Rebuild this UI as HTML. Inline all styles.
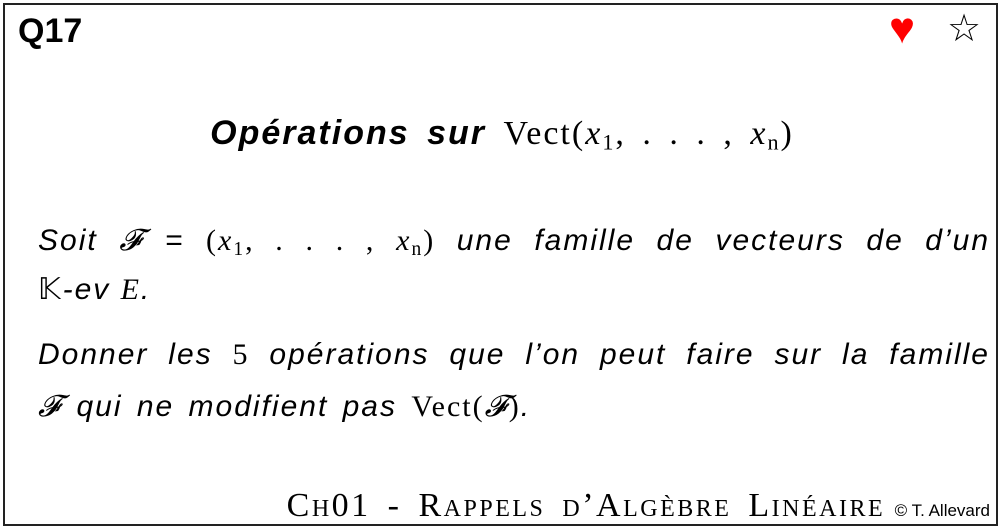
<!DOCTYPE html>
<html><head><meta charset="utf-8"><style>
body{margin:0;width:1004px;height:531px;background:#fff;position:relative;overflow:hidden;font-family:"Liberation Sans",sans-serif;color:#000}
.box{position:absolute;left:3px;top:3px;width:995px;height:523px;border:2px solid #222;box-sizing:border-box}
.a{position:absolute;white-space:nowrap}
.m{font-family:"Liberation Serif",serif;font-style:normal}
.mi{font-family:"Liberation Serif",serif;font-style:italic}
.it{font-style:italic}
.j{width:952px;text-align:justify;text-align-last:justify;letter-spacing:2px}
sub{font-size:65%;vertical-align:-0.25em;font-style:normal}
</style></head><body>
<div class="box"></div>
<div class="a" style="left:18px;top:12px;font-size:34px;font-weight:bold">Q17</div>
<div class="a" style="left:889px;top:4px;font-size:44px;color:#f00">&#9829;</div>
<div class="a" style="left:947px;top:6px;font-size:38px">&#9734;</div>
<div class="a" style="left:0;width:1004px;text-align:center;top:114px;font-size:34px;letter-spacing:2px;word-spacing:6px"><b class="it">Opérations sur</b> <span class="m">Vect(<span class="mi">x</span><sub>1</sub>,&nbsp;.&nbsp;.&nbsp;.&nbsp;,&nbsp;<span class="mi">x<sub>n</sub></span>)</span></div>
<div class="a it j" style="left:38px;top:224px;font-size:30px">Soit <span class="mi">𝓕</span> = <span class="m">(<span class="mi">x</span><sub>1</sub>,&nbsp;.&nbsp;.&nbsp;.&nbsp;,&nbsp;<span class="mi">x<sub>n</sub></span>)</span> une famille de vecteurs de d’un</div>
<div class="a it" style="left:38px;top:272px;font-size:30px;letter-spacing:2px"><span class="m">𝕂</span>-ev <span class="mi">E</span>.</div>
<div class="a it j" style="left:38px;top:338px;font-size:30px">Donner les <span class="m">5</span> opérations que l’on peut faire sur la famille</div>
<div class="a it" style="left:38px;top:390px;font-size:30px;letter-spacing:2px;word-spacing:4px"><span class="mi">𝓕</span> qui ne modifient pas <span class="m">Vect(<span class="mi">𝓕</span>)</span>.</div>
<div class="a" style="right:14px;top:486px;font-size:34px"><span class="m" style="font-variant:small-caps;letter-spacing:2.5px;word-spacing:6px">Ch01 - Rappels d’Algèbre Linéaire</span> <span style="font-size:17px">© T. Allevard</span></div>
</body></html>
